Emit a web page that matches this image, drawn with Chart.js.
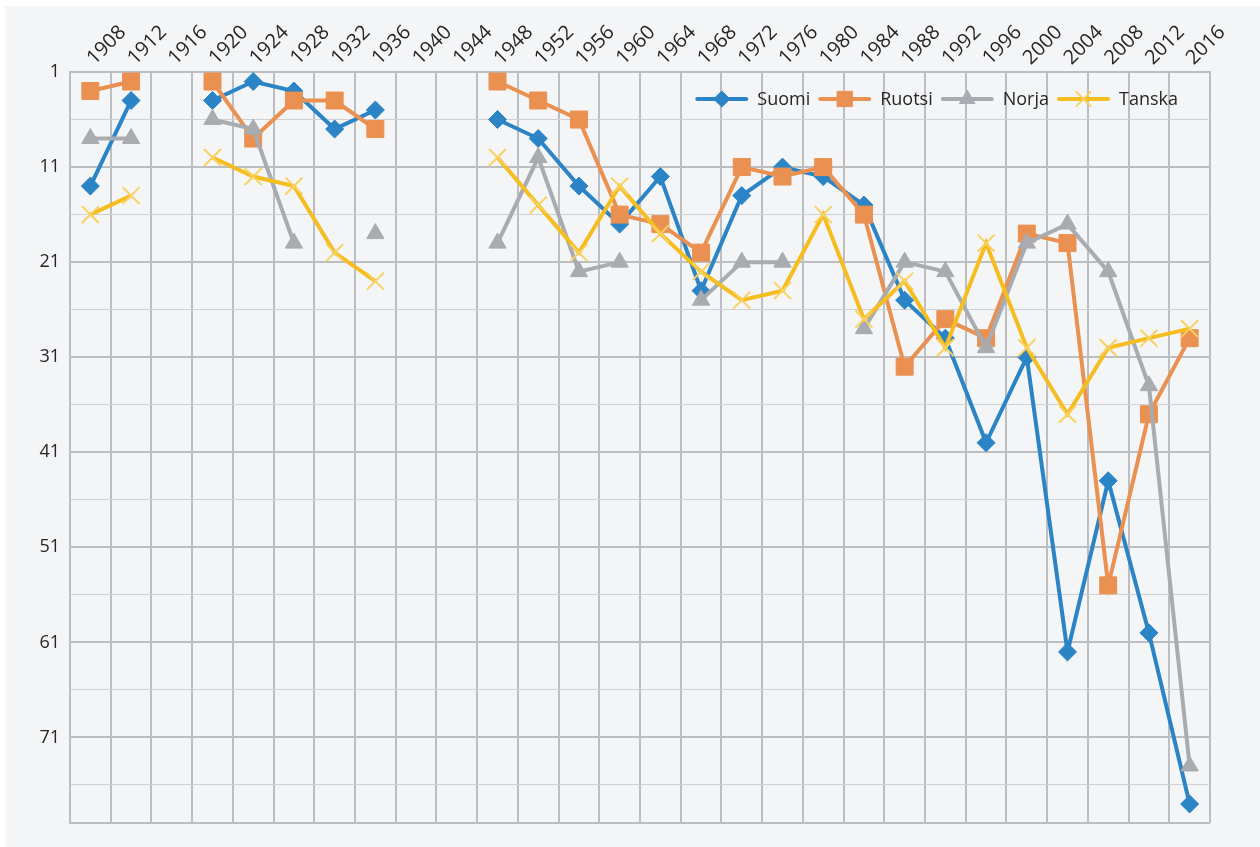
<!DOCTYPE html>
<html>
<head>
<meta charset="utf-8">
<script src="https://cdn.jsdelivr.net/npm/chart.js@4.4.1/dist/chart.umd.min.js"></script>
<style>
  html, body { margin: 0; padding: 0; background: #fff; }
  canvas { display: block; }
</style>
</head>
<body>
<canvas id="c" width="1260" height="847"></canvas>
<script>
// olympic medal table rank per games
const years = ['1908', '1912', '1916', '1920', '1924', '1928', '1932', '1936', '1940', '1944',
  '1948', '1952', '1956', '1960', '1964', '1968', '1972', '1976', '1980', '1984',
  '1988', '1992', '1996', '2000', '2004', '2008', '2012', '2016'];

const suomi  = [13, 4, null, 4, 2, 3, 7, 5, null, null, 6, 8, 13, 17, 12, 24, 14, 11, 12, 15, 25, 29, 40, 31, 62, 44, 60, 78];
const ruotsi = [3, 2, null, 2, 8, 4, 4, 7, null, null, 2, 4, 6, 16, 17, 20, 11, 12, 11, 16, 32, 27, 29, 18, 19, 55, 37, 29];
const norja  = [8, 8, null, 6, 7, 19, null, 18, null, null, 19, 10, 22, 21, null, 25, 21, 21, null, 28, 21, 22, 30, 19, 17, 22, 34, 74];
const tanska = [16, 14, null, 10, 12, 13, 20, 23, null, null, 10, 15, 20, 13, 18, 22, 25, 24, 16, 27, 23, 30, 19, 30, 37, 30, 29, 28];

const yTicks = [1, 6, 11, 16, 21, 26, 31, 36, 41, 46, 51, 56, 61, 66, 71, 76, 80];

const FONT = '"Open Sans", "Noto Sans", sans-serif';
const GRID = '#bdbec1';
const GRID_MINOR = '#d0d1d4';

function series(label, data, color, style, radius, order, pointColor) {
  return {
    label, data, order,
    borderColor: color,
    backgroundColor: pointColor || color,
    borderWidth: 4,
    pointStyle: style,
    pointRadius: radius,
    pointHoverRadius: radius,
    pointBackgroundColor: pointColor || color,
    pointBorderColor: pointColor || color,
    pointBorderWidth: style === 'crossRot' ? 2 : 1,
    spanGaps: false,
    tension: 0
  };
}

// grey page with thin white margin
const bgPlugin = {
  id: 'bg',
  beforeDraw(chart) {
    const { ctx, width, height } = chart;
    ctx.save();
    ctx.fillStyle = '#ffffff';
    ctx.fillRect(0, 0, width, height);
    ctx.fillStyle = '#f4f5f7';
    ctx.fillRect(5, 6, width - 5, height - 6);
    ctx.restore();
  }
};

// legend inside the plot: line + marker + text
const insideLegend = {
  id: 'insideLegend',
  afterDatasetsDraw(chart) {
    const { ctx, chartArea } = chart;
    const lineLen = 53, gapText = 9, gapItem = 8;
    ctx.save();
    ctx.font = '18px ' + FONT;
    const items = chart.data.datasets.map(ds => ({ ds, tw: ctx.measureText(ds.label).width }));
    const total = items.reduce((a, it) => a + lineLen + gapText + it.tw, 0) + gapItem * (items.length - 1);
    let x = chartArea.right - 32 - total;
    const y = chartArea.top + 27;
    items.forEach(({ ds, tw }) => {
      ctx.strokeStyle = ds.borderColor;
      ctx.lineWidth = 4;
      ctx.lineCap = 'round';
      ctx.beginPath();
      ctx.moveTo(x + 2, y);
      ctx.lineTo(x + lineLen - 2, y);
      ctx.stroke();
      ctx.lineCap = 'butt';
      ctx.fillStyle = ds.pointBackgroundColor;
      ctx.strokeStyle = ds.pointBorderColor;
      ctx.lineWidth = ds.pointBorderWidth;
      Chart.helpers.drawPoint(ctx, {
        pointStyle: ds.pointStyle,
        radius: ds.pointRadius * 0.9,
        borderWidth: ds.pointBorderWidth
      }, x + lineLen / 2, y);
      ctx.fillStyle = '#262626';
      ctx.textBaseline = 'middle';
      ctx.textAlign = 'left';
      ctx.fillText(ds.label, x + lineLen + gapText, y + 1);
      x += lineLen + gapText + tw + gapItem;
    });
    ctx.restore();
  }
};

new Chart(document.getElementById('c'), {
  type: 'line',
  data: {
    labels: years,
    datasets: [
      series('Suomi', suomi, '#2a84c6', 'rectRot', 9, 3),
      series('Ruotsi', ruotsi, '#ea9050', 'rect', 12, 2),
      series('Norja', norja, '#a8abb0', 'triangle', 10, 1),
      series('Tanska', tanska, '#f5bd1f', 'crossRot', 12, 0, '#f8d160')
    ]
  },
  options: {
    responsive: false,
    animation: false,
    events: [],
    layout: { padding: { left: 0, top: 0, right: 50, bottom: 24 } },
    plugins: {
      legend: { display: false },
      tooltip: { enabled: false }
    },
    scales: {
      x: {
        position: 'top',
        offset: true,
        grid: { offset: true, color: GRID, lineWidth: 2, drawTicks: false },
        border: { color: GRID, width: 2 },
        ticks: {
          autoSkip: false,
          minRotation: 45,
          maxRotation: 45,
          padding: 2,
          labelOffset: 17,
          color: '#262626',
          font: { family: FONT, size: 20 }
        },
        afterFit(scale) { scale.height = 72; }
      },
      y: {
        reverse: true,
        min: 1,
        max: 80,
        grid: {
          drawTicks: false,
          color: ctx => ((ctx.tick.value - 1) % 10 === 0 || ctx.tick.value === 80) ? GRID : GRID_MINOR,
          lineWidth: ctx => ((ctx.tick.value - 1) % 10 === 0 || ctx.tick.value === 80) ? 2 : 1
        },
        border: { color: GRID, width: 2 },
        afterBuildTicks(scale) { scale.ticks = yTicks.map(v => ({ value: v })); },
        ticks: {
          padding: 10,
          color: '#262626',
          font: { family: FONT, size: 18 },
          callback: v => ((v - 1) % 10 === 0 && v < 80) ? String(v) : ''
        },
        afterFit(scale) { scale.width = 70; }
      }
    }
  },
  plugins: [bgPlugin, insideLegend]
});
</script>
</body>
</html>
